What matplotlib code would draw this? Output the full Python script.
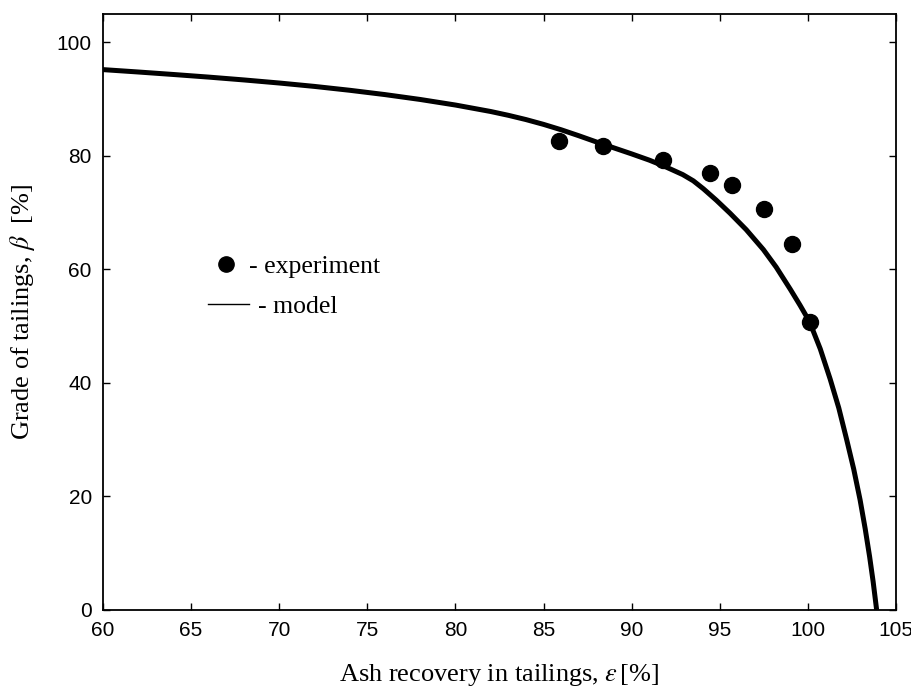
import matplotlib
matplotlib.use("Agg")
import matplotlib.pyplot as plt
from matplotlib.lines import Line2D

# experimental points (ash recovery in tailings, grade of tailings)
exp_recovery = [85.9, 88.4, 91.8, 94.45, 95.7, 97.5, 99.1, 100.1]
exp_grade = [82.7, 81.7, 79.3, 77.0, 74.9, 70.7, 64.5, 50.8]

# model curve
model_recovery = [60.0, 62.0, 64.0, 66.0, 68.0, 70.0, 72.0, 74.0, 76.0, 78.0,
                  80.0, 82.0, 83.0, 84.0, 85.0, 86.0, 87.0, 88.0, 89.0, 90.0,
                  91.0, 91.8, 92.9, 93.5, 94.07, 94.8, 95.58, 96.5, 97.47,
                  98.2, 99.0, 99.55, 100.09, 100.7, 101.26, 101.75, 102.2,
                  102.6, 102.96, 103.25, 103.5, 103.7, 103.9]
model_grade = [95.2, 94.78, 94.34, 93.88, 93.38, 92.84, 92.24, 91.56, 90.8,
               89.94, 88.96, 87.82, 87.15, 86.4, 85.55, 84.6, 83.55, 82.45,
               81.4, 80.35, 79.25, 78.25, 76.7, 75.6, 74.2, 72.2, 69.9,
               67.0, 63.5, 60.4, 56.5, 53.7, 50.8, 46.0, 40.7, 35.6, 30.0,
               24.8, 19.4, 14.3, 9.4, 5.0, 0.0]

plt.rcParams['mathtext.fontset'] = 'stix'

fig = plt.figure(figsize=(9.12, 6.89), dpi=100)
ax = fig.add_axes([0.1129, 0.1147, 0.8696, 0.865])

ax.plot(model_recovery, model_grade, color='black', lw=3.6,
        solid_joinstyle='round', solid_capstyle='butt')
ax.plot(exp_recovery, exp_grade, 'o', color='black', ms=11.5)

ax.set_xlim(60, 105)
ax.set_ylim(0, 105)
ax.set_xticks(range(60, 106, 5))
ax.set_yticks(range(0, 101, 20))
ax.tick_params(direction='in', length=5, width=1, top=True, right=True,
               labelsize=15, pad=8)
for lab in ax.get_xticklabels() + ax.get_yticklabels():
    lab.set_family('Liberation Sans')
for sp in ax.spines.values():
    sp.set_linewidth(1.3)

ax.set_xlabel(r'Ash recovery in tailings, $\varepsilon\,$[%]',
              family='Liberation Serif', fontsize=19, labelpad=16)
ax.set_ylabel(r'Grade of tailings, $\beta$  [%]',
              family='Liberation Serif', fontsize=19, labelpad=14)

leg_font = {'family': 'Liberation Serif', 'size': 18.5}
leg1 = ax.legend([Line2D([], [], ls='none', marker='o', color='black', ms=11)],
                 ['- experiment'], loc='center left',
                 bbox_to_anchor=(0.1387, 0.5755), frameon=False,
                 borderaxespad=0, borderpad=0, handlelength=1.0,
                 handletextpad=0.4, prop=leg_font)
ax.add_artist(leg1)
ax.legend([Line2D([], [], color='black', lw=1)], ['- model'],
          loc='center left', bbox_to_anchor=(0.1324, 0.5084), frameon=False,
          borderaxespad=0, borderpad=0, handlelength=1.6,
          handletextpad=0.35, prop=leg_font)

fig.savefig('out.png', dpi=100)
